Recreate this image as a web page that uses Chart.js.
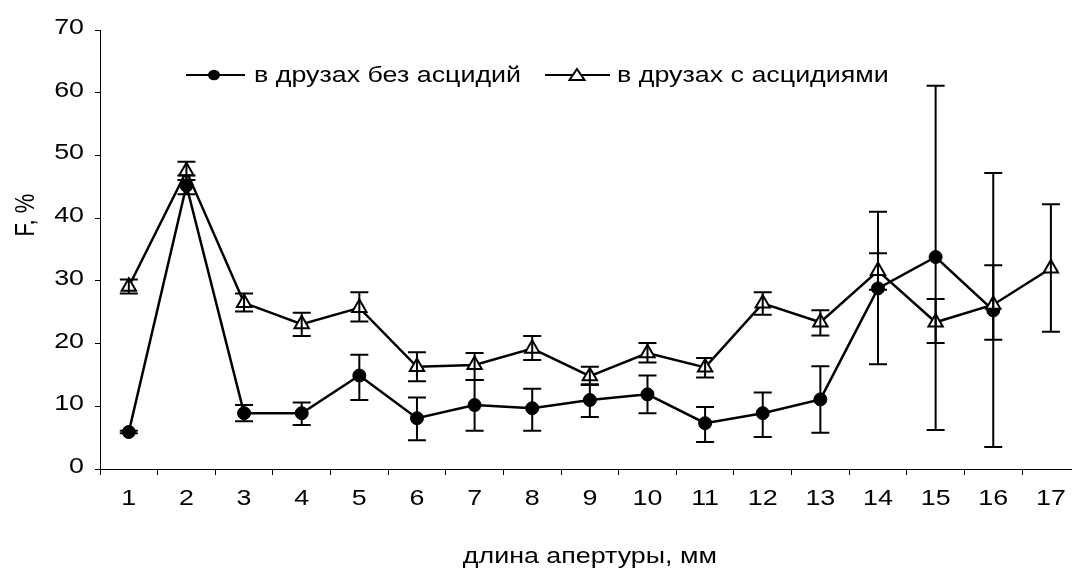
<!DOCTYPE html>
<html>
<head>
<meta charset="utf-8">
<script src="https://cdn.jsdelivr.net/npm/chart.js@4"></script>
<style>
html,body{margin:0;padding:0;background:#fff;overflow:hidden;}
#wrap{width:1072px;height:576px;position:relative;overflow:hidden;}
#c{position:absolute;left:0;top:0;}
</style>
</head>
<body>
<div id="wrap"><canvas id="c" width="1090" height="576"></canvas></div>
<script>
const categories = ['1','2','3','4','5','6','7','8','9','10','11','12','13','14','15','16','17'];
const seriesNames = ['в друзах без асцидий', 'в друзах с асцидиями'];
const yTickValues = [0, 10, 20, 30, 40, 50, 60, 70];
const withoutVals  = [5.9, 45.2, 8.9, 8.9, 14.9, 8.1, 10.2, 9.7, 11.0, 11.9, 7.3, 8.9, 11.1, 28.8, 33.8, 25.3, null];
const withoutLow   = [5.7, 43.8, 7.6, 7.0, 11.0, 4.6, 6.1, 6.1, 8.3, 8.9, 4.3, 5.1, 5.8, 16.7, 6.2, 3.5, null];
const withoutHigh  = [6.1, 46.8, 10.2, 10.6, 18.2, 11.4, 14.2, 12.8, 13.5, 14.9, 9.9, 12.2, 16.4, 41.0, 61.1, 47.2, null];
const withVals     = [29.1, 47.5, 26.5, 23.1, 25.7, 16.3, 16.6, 19.2, 14.8, 18.5, 16.2, 26.4, 23.4, 31.6, 23.4, 26.2, 32.0];
const withLow      = [28.0, 46.1, 25.1, 21.2, 23.5, 14.0, 14.2, 17.4, 13.4, 17.0, 14.6, 24.6, 21.3, 28.6, 20.1, 20.6, 21.9];
const withHigh     = [30.2, 49.0, 28.0, 24.9, 28.2, 18.6, 18.5, 21.2, 16.3, 20.1, 17.7, 28.2, 25.3, 34.4, 27.1, 32.5, 42.2];
const yTitle = 'F, %';
const xTitle = 'длина апертуры, мм';

const FONT = '"Liberation Sans", Arial, sans-serif';
const STRETCH = 1.22;

function stretchedText(ctx, text, x, y, align) {
  ctx.save();
  ctx.translate(x, y);
  ctx.scale(STRETCH, 1);
  ctx.textAlign = align;
  ctx.textBaseline = 'middle';
  ctx.fillText(text, 0, 0);
  ctx.restore();
}

const errorBars = {
  id: 'errorBars',
  afterDatasetsDraw(chart) {
    const ctx = chart.ctx;
    const ys = chart.scales.y;
    ctx.save();
    ctx.strokeStyle = '#000';
    ctx.lineWidth = 2;
    chart.data.datasets.forEach((ds, di) => {
      const meta = chart.getDatasetMeta(di);
      ds.errLow.forEach((lo, i) => {
        const hi = ds.errHigh[i];
        if (lo == null || hi == null) return;
        const x = meta.data[i].x;
        const y1 = ys.getPixelForValue(lo), y2 = ys.getPixelForValue(hi);
        ctx.beginPath();
        ctx.moveTo(x, y1); ctx.lineTo(x, y2);
        ctx.moveTo(x - 9, y1); ctx.lineTo(x + 9, y1);
        ctx.moveTo(x - 9, y2); ctx.lineTo(x + 9, y2);
        ctx.stroke();
      });
    });
    ctx.restore();
  }
};

const extras = {
  id: 'extras',
  afterDraw(chart) {
    const ctx = chart.ctx;
    const xs = chart.scales.x, ys = chart.scales.y;
    ctx.save();
    ctx.fillStyle = '#000';
    ctx.font = '22px ' + FONT;
    // tick labels
    yTickValues.forEach(v => stretchedText(ctx, String(v), 84, ys.getPixelForValue(v) - 2, 'right'));
    categories.forEach((c, i) => stretchedText(ctx, c, xs.getPixelForValue(i), 499, 'center'));
    // y title
    ctx.save();
    ctx.translate(27, 215);
    ctx.rotate(-Math.PI / 2);
    ctx.scale(1, STRETCH);
    ctx.textAlign = 'center';
    ctx.textBaseline = 'middle';
    ctx.fillText(yTitle, 0, 0);
    ctx.restore();
    // x title
    stretchedText(ctx, xTitle, (chart.chartArea.left + chart.chartArea.right) / 2, 557, 'center');
    // legend
    const ly = 75;
    ctx.strokeStyle = '#000';
    ctx.lineWidth = 2;
    ctx.beginPath(); ctx.moveTo(186, ly); ctx.lineTo(245, ly); ctx.stroke();
    ctx.beginPath(); ctx.ellipse(214, ly, 6, 5.2, 0, 0, Math.PI * 2); ctx.fill();
    ctx.beginPath(); ctx.moveTo(545, ly); ctx.lineTo(610, ly); ctx.stroke();
    ctx.fillStyle = '#fff';
    ctx.beginPath();
    ctx.moveTo(577, ly - 6); ctx.lineTo(584.5, ly + 5); ctx.lineTo(569.5, ly + 5); ctx.closePath();
    ctx.fill(); ctx.stroke();
    ctx.fillStyle = '#000';
    stretchedText(ctx, seriesNames[0], 254, ly + 1, 'left');
    stretchedText(ctx, seriesNames[1], 617, ly + 1, 'left');
    ctx.restore();
  }
};

new Chart(document.getElementById('c'), {
  type: 'line',
  data: {
    labels: categories,
    datasets: [
      {
        label: seriesNames[1],
        data: withVals,
        errLow: withLow, errHigh: withHigh,
        borderColor: '#000', borderWidth: 2.5,
        pointStyle: 'triangle', pointRadius: 8.3,
        pointBackgroundColor: '#fff', pointBorderColor: '#000', pointBorderWidth: 2,
        tension: 0, order: 1
      },
      {
        label: seriesNames[0],
        data: withoutVals,
        errLow: withoutLow, errHigh: withoutHigh,
        borderColor: '#000', borderWidth: 2.5,
        pointStyle: 'circle', pointRadius: 6.5,
        pointBackgroundColor: '#000', pointBorderColor: '#000', pointBorderWidth: 1,
        tension: 0, order: 2
      }
    ]
  },
  options: {
    responsive: false,
    animation: false,
    events: [],
    clip: false,
    layout: { padding: { top: 30, right: 8, left: 0, bottom: 0 } },
    plugins: { legend: { display: false }, tooltip: { enabled: false } },
    scales: {
      x: {
        offset: true,
        grid: { offset: true, drawOnChartArea: false, drawTicks: true, tickLength: 6, color: '#000', lineWidth: 1 },
        border: { display: true, color: '#000', width: 1 },
        ticks: { display: false, autoSkip: false },
        afterFit(s) { s.height = 107; s.paddingLeft = 0; s.paddingRight = 0; }
      },
      y: {
        min: 0, max: 70,
        grid: { drawOnChartArea: false, drawTicks: true, tickLength: 5, color: '#000', lineWidth: 1 },
        border: { display: true, color: '#000', width: 1 },
        ticks: { display: false, stepSize: 10 },
        afterFit(s) { s.width = 100; s.paddingTop = 0; s.paddingBottom = 0; }
      }
    }
  },
  plugins: [errorBars, extras]
});
</script>
</body>
</html>
